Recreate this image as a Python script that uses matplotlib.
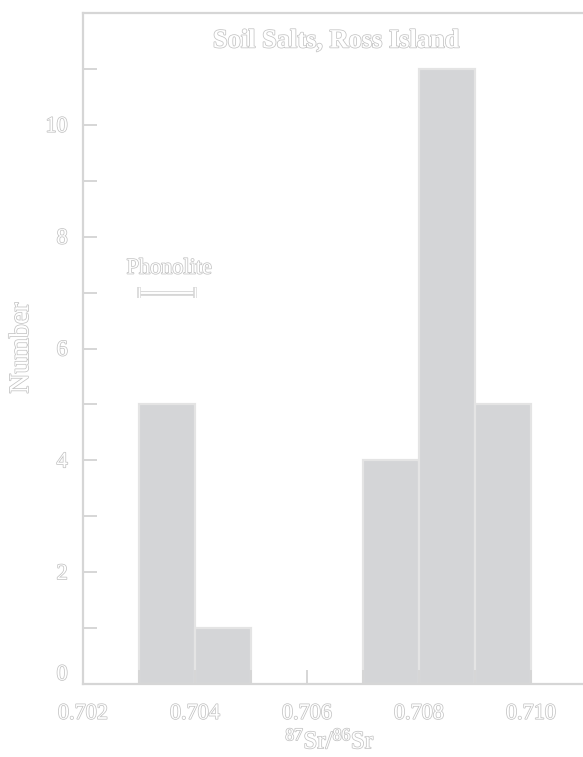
import matplotlib
matplotlib.use("Agg")
import matplotlib.pyplot as plt
import matplotlib.patheffects as pe
import matplotlib.transforms as mtransforms
import numpy as np

# Histogram of 87Sr/86Sr in soil salts
bin_left = [0.703, 0.704, 0.707, 0.708, 0.709]
bin_width = 0.001
counts = [5, 1, 4, 11, 5]

# Phonolite range
phon_lo, phon_hi, phon_y = 0.703, 0.704, 7

x_ticks = [0.702, 0.704, 0.706, 0.708, 0.710]
x_tick_labels = ["0.702", "0.704", "0.706", "0.708", "0.710"]
y_ticks = [0, 2, 4, 6, 8, 10]

line_c = "#d6d6d6"
text_c = "#c4c4c4"
outline = [pe.withStroke(linewidth=1.1, foreground=text_c)]
line_outline = [pe.withStroke(linewidth=3.4, foreground=line_c)]

plt.rcParams["font.family"] = ["Liberation Serif", "DejaVu Serif"]
plt.rcParams["mathtext.fontset"] = "custom"
plt.rcParams["mathtext.rm"] = "Liberation Serif"
plt.rcParams["mathtext.it"] = "Liberation Serif"
plt.rcParams["mathtext.bf"] = "Liberation Serif:bold"

fig = plt.figure(figsize=(5.83, 7.57), dpi=100)
ax = fig.add_axes([83 / 583, 73 / 757, 1.0, 671 / 757])
ax.set_xlim(0.702, 0.702 + 0.002 * (583 / 112))
ax.set_ylim(0, 12)

ax.bar(bin_left, counts, width=bin_width, align="edge",
       color="#d4d5d7", edgecolor="#e4e4e4", linewidth=1.6, zorder=1)

for s in ["right", "top"]:
    ax.spines[s].set_visible(False)
for s in ["left", "bottom"]:
    ax.spines[s].set_color(line_c)
    ax.spines[s].set_linewidth(1.6)
ax.axhline(12, color=line_c, linewidth=1.6, clip_on=False)

ax.set_xticks(x_ticks)
ax.set_xticklabels(x_tick_labels)
ax.set_xticks(np.arange(0.703, 0.7101, 0.002), minor=True)
ax.set_yticks(y_ticks)
ax.set_yticks(np.arange(1, 12, 2), minor=True)
ax.tick_params(which="both", direction="in", color=line_c, width=1.4,
               length=10, labelcolor="white", labelsize=16)
ax.tick_params(axis="x", pad=15)
ax.tick_params(axis="y", pad=11)
for lab in ax.get_xticklabels() + ax.get_yticklabels():
    lab.set_path_effects(outline)
# lift the zero label clear of the x axis
zero_lab = ax.yaxis.get_major_ticks()[0].label1
zero_lab.set_transform(zero_lab.get_transform()
                       + mtransforms.ScaledTranslation(0, 8 / 72, fig.dpi_scale_trans))

# phonolite range bar with end caps
cap = 0.1
ax.plot([phon_lo, phon_hi], [phon_y, phon_y], color="white", lw=1.4,
        solid_capstyle="butt", path_effects=line_outline, zorder=3)
for xe in (phon_lo, phon_hi):
    ax.plot([xe, xe], [phon_y - cap, phon_y + cap], color="white", lw=1.0,
            solid_capstyle="butt",
            path_effects=[pe.withStroke(linewidth=2.6, foreground=line_c)], zorder=3)
ax.text(0.70354, 7.42, "Phonolite", ha="center", va="center",
        fontsize=16, color="white", path_effects=outline)

ax.text(0.70652, 11.5, "Soil Salts, Ross Island", ha="center", va="center",
        fontsize=19, fontweight="bold", color="white", path_effects=outline)

ax.set_ylabel("Number", fontsize=20, color="white", path_effects=outline)
ax.yaxis.set_label_coords(-(83 - 34) / 583, (684 - 348) / 671)
ax.set_xlabel(r"$^{87}$Sr/$^{86}$Sr", fontsize=18, color="white",
              path_effects=outline)
ax.xaxis.set_label_coords((330 - 83) / 583, -(729 - 684) / 671)

fig.savefig("out.png", dpi=100, facecolor="white")
